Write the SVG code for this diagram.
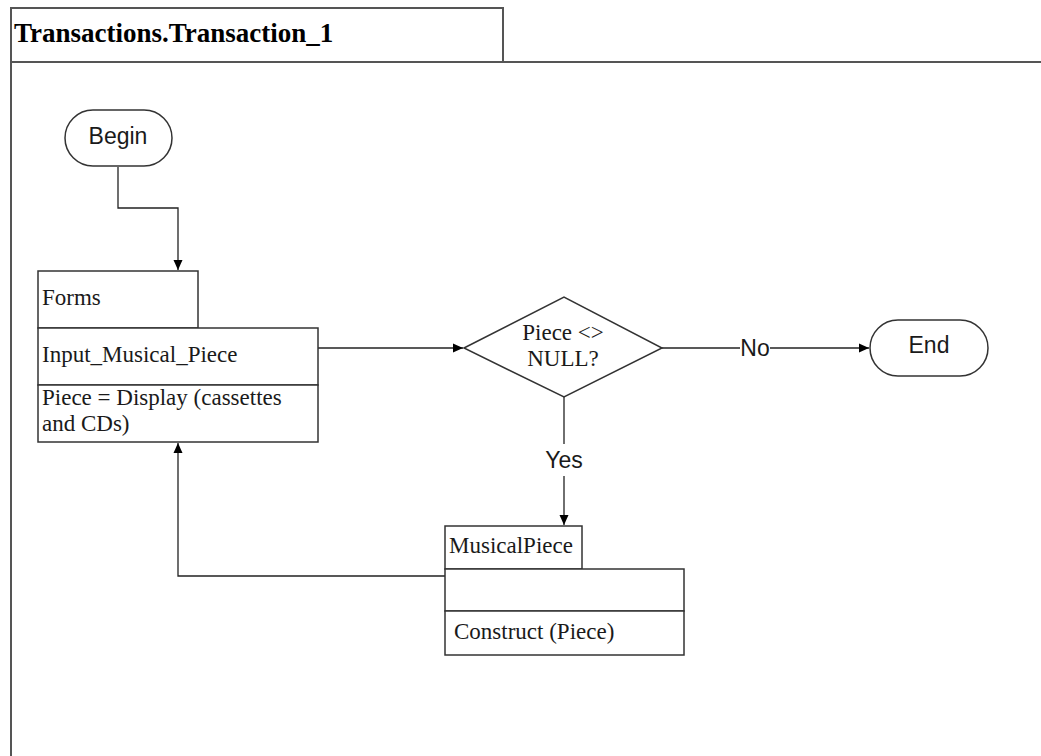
<svg xmlns="http://www.w3.org/2000/svg" width="1041" height="756" viewBox="0 0 1041 756">
  <defs>
    <marker id="arrow" viewBox="0 0 10 10" refX="10" refY="5" markerWidth="10" markerHeight="10" markerUnits="userSpaceOnUse" orient="auto">
      <path d="M0,0.5 L10,5 L0,9.5 z" fill="#000"/>
    </marker>
    <style>
      .frame { fill: none; stroke: #555; stroke-width: 2; }
      .box { fill: #fff; stroke: #333; stroke-width: 1.5; }
      .edge { fill: none; stroke: #222; stroke-width: 1.3; }
      .serif { font-family: "Liberation Serif", "Times New Roman", serif; font-size: 23px; fill: #1a1a1a; }
      .sans { font-family: "Liberation Sans", Arial, sans-serif; font-size: 23px; fill: #1a1a1a; }
      .title { font-family: "Liberation Serif", "Times New Roman", serif; font-size: 27px; font-weight: bold; fill: #000; }
    </style>
  </defs>
  <rect width="1041" height="756" fill="#fff"/>

  <!-- swimlane frame -->
  <g id="frame">
    <path class="frame" d="M11,756 V8 H503 V62"/>
    <path class="frame" d="M11,62 H1041"/>
    <text class="title" x="14" y="42">Transactions.Transaction_1</text>
  </g>

  <!-- connectors -->
  <g id="connectors">
    <path class="edge" d="M118,167 V208 H178 V270" marker-end="url(#arrow)"/>
    <path class="edge" d="M318,348 H463" marker-end="url(#arrow)"/>
    <path class="edge" d="M662,348 H740"/>
    <path class="edge" d="M770,348 H869" marker-end="url(#arrow)"/>
    <text class="sans" x="755" y="356" text-anchor="middle">No</text>
    <path class="edge" d="M564,397 V444"/>
    <path class="edge" d="M564,476 V525" marker-end="url(#arrow)"/>
    <text class="sans" x="564" y="468" text-anchor="middle">Yes</text>
    <path class="edge" d="M445,576 H178 V443" marker-end="url(#arrow)"/>
  </g>

  <g id="begin">
    <rect class="box" x="65" y="110" width="107" height="56" rx="28" ry="28"/>
    <text class="sans" x="118" y="144" text-anchor="middle">Begin</text>
  </g>

  <g id="forms">
    <rect class="box" x="38" y="271" width="160" height="57"/>
    <text class="serif" x="42" y="305">Forms</text>
    <rect class="box" x="38" y="328" width="280" height="57"/>
    <text class="serif" x="42" y="362">Input_Musical_Piece</text>
    <rect class="box" x="38" y="385" width="280" height="57"/>
    <text class="serif" x="42" y="405">Piece = Display (cassettes</text>
    <text class="serif" x="42" y="431">and CDs)</text>
  </g>

  <g id="decision">
    <polygon class="box" points="464,348 564,297 662,348 564,397"/>
    <text class="serif" x="563" y="340" text-anchor="middle">Piece &lt;&gt;</text>
    <text class="serif" x="563" y="366" text-anchor="middle">NULL?</text>
  </g>

  <g id="end">
    <rect class="box" x="870" y="320" width="118" height="56" rx="28" ry="28"/>
    <text class="sans" x="929" y="353" text-anchor="middle">End</text>
  </g>

  <g id="musicalpiece">
    <rect class="box" x="445" y="526" width="137" height="43"/>
    <text class="serif" x="449" y="553">MusicalPiece</text>
    <rect class="box" x="445" y="569" width="239" height="42"/>
    <rect class="box" x="445" y="611" width="239" height="44"/>
    <text class="serif" x="454" y="639">Construct (Piece)</text>
  </g>
</svg>
